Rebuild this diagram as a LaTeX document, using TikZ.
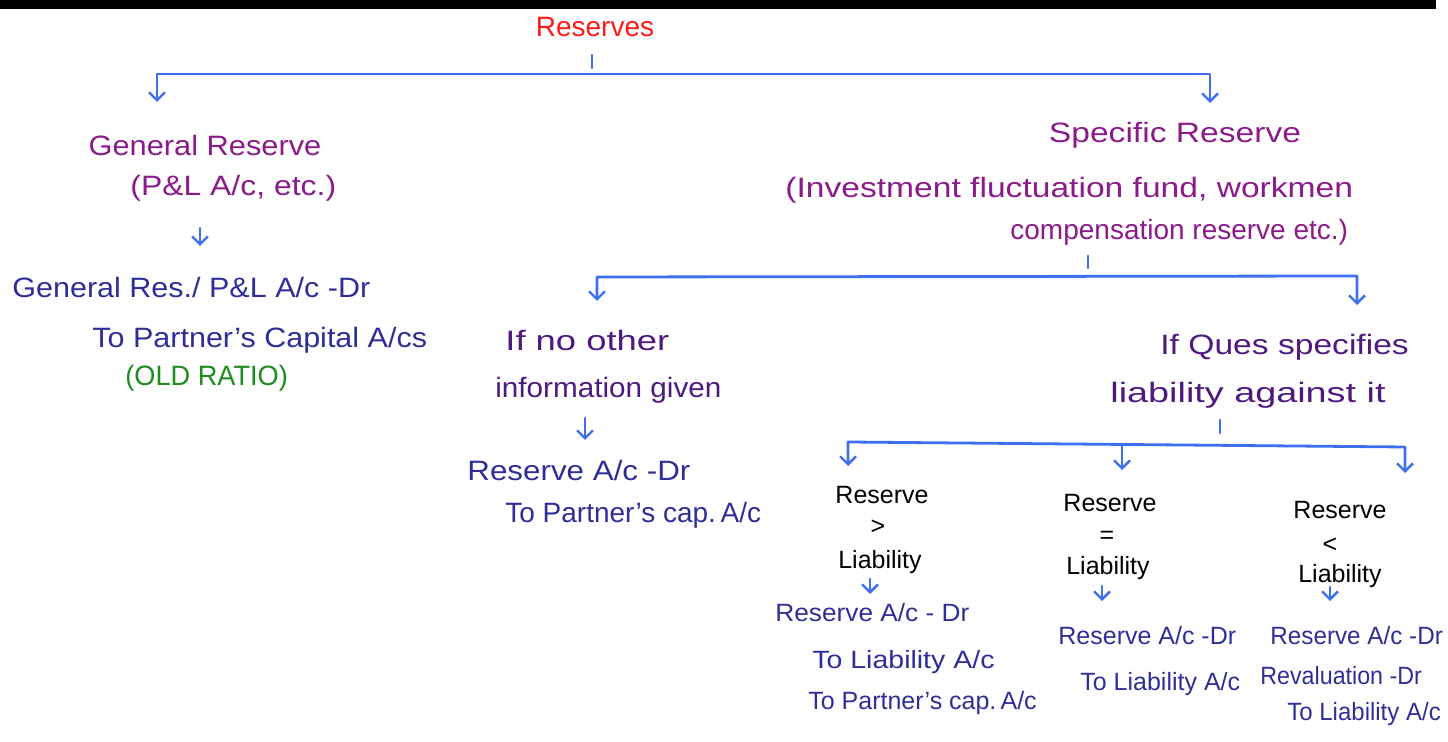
\documentclass[tikz,border=0pt]{standalone}
\usepackage{fontspec}
\usepackage{graphicx}
\setmainfont{Liberation Sans}
\usetikzlibrary{arrows.meta}
\definecolor{redc}{HTML}{FF1A1A}
\definecolor{purpc}{HTML}{8B1A8B}
\definecolor{purpd}{HTML}{4E1A80}
\definecolor{navyc}{HTML}{2E2E99}
\definecolor{linec}{HTML}{3D6FF0}
\definecolor{greenc}{HTML}{1E8C1E}
\newcommand{\hwide}[2]{\scalebox{#1}[1]{#2}}
\tikzset{
  conn/.style={draw=linec, line width=1.4pt, line cap=round, line join=round},
  arr/.style={conn, -{Straight Barb[length=4pt,width=8pt,line width=1.2pt]}},
  barr/.style={conn, {Straight Barb[length=4pt,width=8pt,line width=1.2pt]}-{Straight Barb[length=4pt,width=8pt,line width=1.2pt]}},
  txt/.style={inner sep=0pt, anchor=west, font=\fontsize{14}{16}\selectfont\frenchspacing},
  stxt/.style={inner sep=0pt, anchor=west, font=\fontsize{12.5}{15}\selectfont\frenchspacing},
  ttl/.style={txt, text=redc, anchor=center},
  purptxt/.style={txt, text=purpc},
  purpdtxt/.style={txt, text=purpd},
  navytxt/.style={txt, text=navyc},
  snavy/.style={stxt, text=navyc},
  greentxt/.style={txt, text=greenc},
  blktxt/.style={stxt, text=black, anchor=center}
}
\begin{document}
\begin{tikzpicture}[x=0.5pt,y=-0.5pt]
\useasboundingbox (0,0) rectangle (1448,742);
\fill[black] (0,0) rectangle (1436,9);

% top
\node[ttl] (res) at (595,27) {Reserves};
\coordinate (t0a) at (592,55); \coordinate (t0b) at (592,68);
\draw[conn] (t0a) -- (t0b);
\coordinate (tipL) at (157,102); \coordinate (barL) at (157,74);
\coordinate (barR) at (1210,74); \coordinate (tipR) at (1210,103);
\draw[barr] (tipL) -- (barL) -- (barR) -- (tipR);

% general reserve
\node[purptxt, anchor=center] (gen) at (205,145) {\hwide{1.1}{General Reserve}};
\node[purptxt] (genex) at (130,188) {\hwide{1.14}{(P\&L A/c, etc.)}};
\coordinate (g1) at (200,228); \coordinate (g2) at (200,246);
\draw[arr] (g1) -- (g2);
\node[navytxt] (gj1) at (12,287) {\hwide{1.09}{General Res./ P\&L A/c -Dr}};
\node[navytxt] (gj2) at (92,340) {\hwide{1.09}{To Partner's Capital A/cs}};
\node[greentxt] (gj3) at (125,378) {\hwide{0.97}{(OLD RATIO)}};

% specific reserve
\node[purptxt, anchor=center] (spec) at (1175,135) {\hwide{1.2}{Specific Reserve}};
\node[purptxt] (spec2) at (785,190) {\hwide{1.2}{(Investment fluctuation fund, workmen}};
\node[purptxt] (spec3) at (1010,232) {compensation reserve etc.)};
\coordinate (s0a) at (1088,256); \coordinate (s0b) at (1088,268);
\draw[conn] (s0a) -- (s0b);
\coordinate (stipL) at (597,301); \coordinate (sbarL) at (597,277);
\coordinate (sbarR) at (1357,276); \coordinate (stipR) at (1357,305);
\draw[barr] (stipL) -- (sbarL) -- (sbarR) -- (stipR);

% no other information
\node[purpdtxt] (n1) at (505,340) {\hwide{1.3}{If no other}};
\node[purpdtxt] (n2) at (495,390) {\hwide{1.06}{information given}};
\coordinate (na) at (585,418); \coordinate (nb) at (585,440);
\draw[arr] (na) -- (nb);
\node[navytxt] (n3) at (467,470) {\hwide{1.12}{Reserve A/c -Dr}};
\node[navytxt] (n4) at (505,515) {To Partner's cap.\,A/c};

% question specifies liability
\node[purpdtxt] (q1) at (1160,347) {\hwide{1.2}{If Ques specifies}};
\node[purpdtxt] (q2) at (1110,395) {\hwide{1.35}{liability against it}};
\coordinate (qa) at (1220,420); \coordinate (qb) at (1220,433);
\draw[conn] (qa) -- (qb);
\coordinate (qtipL) at (848,466); \coordinate (qbarL) at (848,442);
\coordinate (qbarM) at (1122,444); \coordinate (qtipM) at (1122,470);
\coordinate (qbarR) at (1405,447); \coordinate (qtipR) at (1405,473);
\draw[barr] (qtipL) -- (qbarL) -- (qbarR) -- (qtipR);
\draw[arr] (qbarM) -- (qtipM);

% reserve > liability
\node[blktxt] (a1) at (882,495) {Reserve};
\node[blktxt] (a2) at (878,527) {>};
\node[blktxt] (a3) at (880,562) {Liability};
\coordinate (aa) at (870,579); \coordinate (ab) at (870,594);
\draw[arr] (aa) -- (ab);
\node[snavy] (a4) at (775,613) {\hwide{1.05}{Reserve A/c - Dr}};
\node[snavy] (a5) at (812,662) {\hwide{1.14}{To Liability A/c}};
\node[snavy] (a6) at (808,703) {To Partner's cap.\,A/c};

% reserve = liability
\node[blktxt] (b1) at (1110,503) {Reserve};
\node[blktxt] (b2) at (1107,537) {=};
\node[blktxt] (b3) at (1108,568) {Liability};
\coordinate (ba) at (1102,586); \coordinate (bb) at (1102,601);
\draw[arr] (ba) -- (bb);
\node[snavy] (b4) at (1058,636) {Reserve A/c -Dr};
\node[snavy] (b5) at (1080,684) {To Liability A/c};

% reserve < liability
\node[blktxt] (c1) at (1340,510) {Reserve};
\node[blktxt] (c2) at (1330,545) {<};
\node[blktxt] (c3) at (1340,576) {Liability};
\coordinate (ca) at (1330,587); \coordinate (cb) at (1330,601);
\draw[arr] (ca) -- (cb);
\node[snavy] (c4) at (1270,636) {\hwide{0.97}{Reserve A/c -Dr}};
\node[snavy] (c5) at (1260,676) {\hwide{0.93}{Revaluation -Dr}};
\node[snavy] (c6) at (1287,714) {\hwide{0.96}{To Liability A/c}};
\end{tikzpicture}
\end{document}
